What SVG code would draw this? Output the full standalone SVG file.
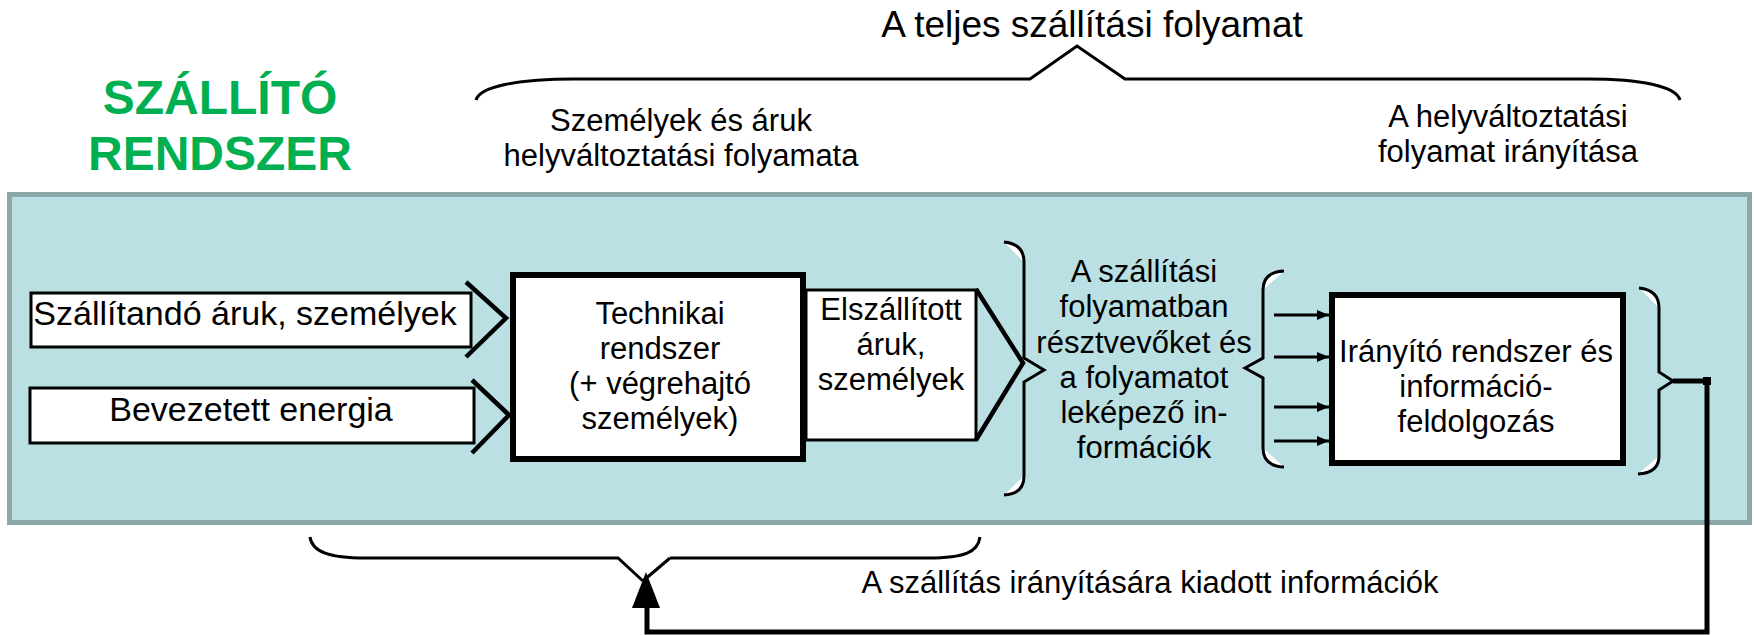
<svg xmlns="http://www.w3.org/2000/svg" width="1754" height="635" viewBox="0 0 1754 635">
<defs>
<marker id="ah" viewBox="0 0 12 10" refX="12" refY="5" markerWidth="12" markerHeight="10" markerUnits="userSpaceOnUse" orient="auto"><path d="M0,0 L12,5 L0,10 z" fill="#000"/></marker>
</defs>
<style>
text{font-family:"Liberation Sans",Arial,sans-serif;fill:#000}
.c{text-anchor:middle}
.t31{font-size:31px}
.t33{font-size:34px}
.box{fill:#fff;stroke:#000}
.thin{stroke-width:3}
.thick{stroke-width:6}
.chev{fill:none;stroke:#000;stroke-width:4.5}
.brace{fill:none;stroke:#000;stroke-width:3;stroke-linejoin:miter}
.cres{fill:#fff;stroke:none}
.fb{fill:none;stroke:#000;stroke-width:5}
.sa{stroke:#000;stroke-width:3;marker-end:url(#ah)}
</style>
<rect width="1754" height="635" fill="#fff"/>

<g id="header">
<text x="220" y="114" class="c" style="font-size:48px;font-weight:bold;fill:#00b050">SZÁLLÍTÓ</text>
<text x="220" y="170" class="c" style="font-size:48px;font-weight:bold;fill:#00b050">RENDSZER</text>
<text x="1092" y="37" class="c" style="font-size:37px">A teljes szállítási folyamat</text>
<text x="681" y="131" class="c t31">Személyek és áruk</text>
<text x="681" y="166" class="c t31">helyváltoztatási folyamata</text>
<text x="1508" y="127" class="c t31">A helyváltoztatási</text>
<text x="1508" y="162" class="c t31">folyamat irányítása</text>
</g>

<g id="system">
<rect x="9.5" y="194.5" width="1740" height="328" fill="#bae0e3" stroke="#8ba7a7" stroke-width="5"/>
</g>

<g id="input-goods">
<rect x="31" y="293" width="440" height="54" class="box thin"/>
<path d="M466,282 L506,318 L466,357" class="chev"/>
<text x="245" y="325" class="c t33">Szállítandó áruk, személyek</text>
</g>

<g id="input-energy">
<rect x="30" y="388" width="444" height="55" class="box thin"/>
<path d="M472,380 L509,415 L472,453" class="chev"/>
<text x="251" y="421" class="c t33">Bevezetett energia</text>
</g>

<g id="technical">
<rect x="513" y="275" width="290" height="184" class="box thick"/>
<text x="660" y="324" class="c t31">Technikai</text>
<text x="660" y="359" class="c t31">rendszer</text>
<text x="660" y="394" class="c t31">(+ végrehajtó</text>
<text x="660" y="429" class="c t31">személyek)</text>
</g>

<g id="delivered">
<rect x="806" y="290" width="170" height="150" class="box thin"/>
<path d="M976,289 L1023,363 L976,440" class="chev"/>
<text x="891" y="320" class="c t31">Elszállított</text>
<text x="891" y="355" class="c t31">áruk,</text>
<text x="891" y="390" class="c t31">személyek</text>
</g>

<g id="information">
<text x="1144" y="282" class="c t31">A szállítási</text>
<text x="1144" y="317" class="c t31">folyamatban</text>
<text x="1144" y="353" class="c t31">résztvevőket és</text>
<text x="1144" y="388" class="c t31">a folyamatot</text>
<text x="1144" y="423" class="c t31">leképező in-</text>
<text x="1144" y="458" class="c t31">formációk</text>
</g>

<g id="control">
<rect x="1332" y="295" width="291" height="168" class="box thick"/>
<text x="1476" y="362" class="c t31">Irányító rendszer és</text>
<text x="1476" y="397" class="c t31">információ-</text>
<text x="1476" y="432" class="c t31">feldolgozás</text>
</g>

<g id="braces">
<path d="M1004,242 Q1024,244 1024,262 Z M1024,476 Q1024,494 1004,495 Z" class="cres"/>
<path d="M1004,242 Q1024,244 1024,262 L1024,358 L1044,370 L1024,382 L1024,476 Q1024,494 1004,495" class="brace"/>
<path d="M1284,271 Q1263,272 1263,290 Z M1263,448 Q1263,466 1284,467 Z" class="cres"/>
<path d="M1284,271 Q1263,272 1263,290 L1263,358 L1245,368 L1263,378 L1263,448 Q1263,466 1284,467" class="brace"/>
<path d="M1639,288 Q1659,290 1659,308 Z M1659,456 Q1659,473 1638,474 Z" class="cres"/>
<path d="M1639,288 Q1659,290 1659,308 L1659,372 L1673,381 L1659,390 L1659,456 Q1659,473 1638,474" class="brace"/>
<path d="M476,100 C480,86 520,79 574,79 L1030,79 L1077,46 L1125,79 L1588,79 C1640,79 1676,86 1680,100" class="brace"/>
<path d="M310,537 C312,552 330,558 365,558 L618,558 L643,581 M670,558 L643,581 M670,558 L928,558 C965,558 978,552 980,537" class="brace"/>
</g>

<g id="connectors">
<line x1="1274" y1="315" x2="1329" y2="315" class="sa"/>
<line x1="1274" y1="357" x2="1329" y2="357" class="sa"/>
<line x1="1274" y1="407" x2="1329" y2="407" class="sa"/>
<line x1="1274" y1="441" x2="1329" y2="441" class="sa"/>
<path d="M1673,381 L1707,381 L1707,632 L647,632 L647,604" class="fb"/>
<rect x="1703" y="377" width="8" height="8" fill="#000"/>
<polygon points="646,572 632,608 660,608" fill="#000"/>
</g>

<text x="1150" y="593" class="c t31">A szállítás irányítására kiadott információk</text>
</svg>
